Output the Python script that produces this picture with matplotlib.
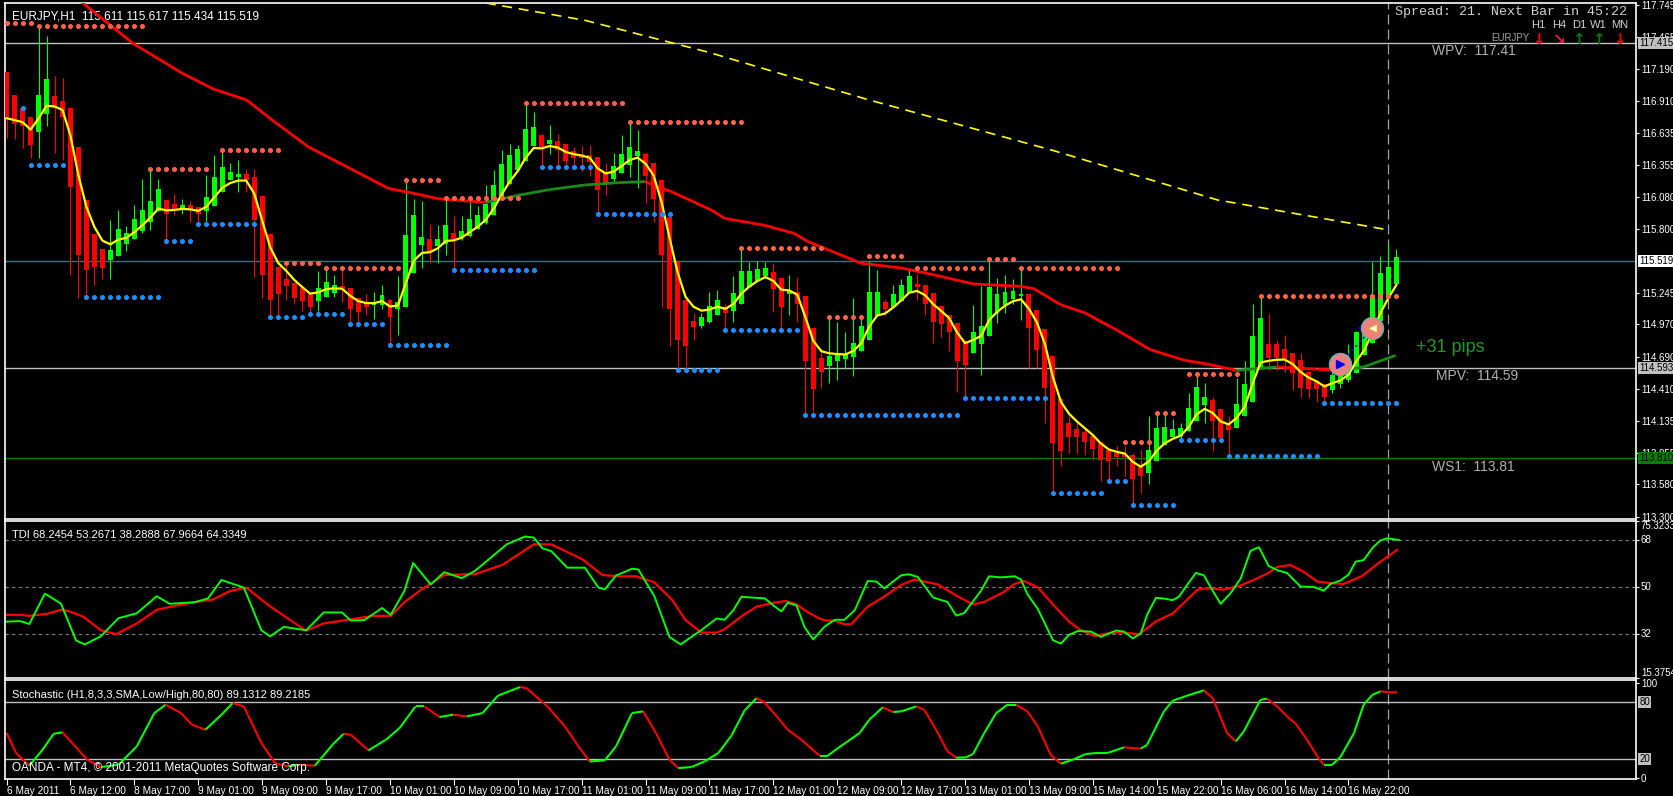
import numpy as np
import pandas as pd
import matplotlib
matplotlib.use('Agg')
import matplotlib.pyplot as plt
from matplotlib.collections import LineCollection
import matplotlib.transforms as mtrans

plt.rcParams['font.family'] = ['Liberation Sans', 'DejaVu Sans']

# ── Data: EURJPY H1 candles (bar 0 = 6 May 2011) ─────────────────
opens = [
    117.15,116.95,116.84,116.76,116.64,116.80,116.94,116.90,116.84,116.50,
    116.04,115.74,115.61,115.53,115.56,115.67,115.71,115.78,115.86,115.95,
    116.04,116.00,115.96,115.99,115.98,115.95,116.00,116.12,116.22,116.25,
    116.26,116.24,116.07,115.74,115.46,115.35,115.32,115.27,115.22,115.17,
    115.21,115.24,115.29,115.27,115.19,115.14,115.14,115.14,115.17,115.10,
    115.12,115.42,115.66,115.70,115.65,115.67,115.75,115.73,115.74,115.80,
    115.85,115.92,116.05,116.19,116.31,116.39,116.52,116.60,116.54,116.55,
    116.52,116.46,116.44,116.43,116.41,116.28,116.23,116.28,116.35,116.43,
    116.44,116.36,116.21,115.89,115.50,115.17,114.99,114.96,114.99,115.05,
    115.11,115.09,115.15,115.29,115.35,115.39,115.41,115.36,115.23,115.24,
    115.20,114.93,114.67,114.61,114.65,114.67,114.69,114.74,114.83,115.04,
    115.15,115.12,115.17,115.24,115.31,115.30,115.23,115.12,115.04,114.97,
    114.81,114.72,114.80,114.87,115.07,115.14,115.19,115.22,115.22,115.08,
    114.92,114.68,114.31,114.10,114.05,114.02,113.99,113.94,113.87,113.84,
    113.83,113.82,113.73,113.68,113.78,113.92,113.99,114.00,114.04,114.13,
    114.27,114.30,114.22,114.10,114.07,114.17,114.30,114.60,114.79,114.79,
    114.74,114.71,114.65,114.54,114.47,114.44,114.40,114.45,114.49,114.55,
    114.70,114.81,115.00,115.20,115.32]
highs = [
    117.16,116.95,116.86,116.76,117.55,117.47,117.13,117.11,116.84,116.50,
    116.04,115.74,115.61,115.88,115.96,115.82,116.01,116.23,116.32,116.23,
    116.05,116.10,116.06,116.04,115.98,116.27,116.44,116.47,116.37,116.40,
    116.32,116.32,116.07,115.74,115.46,115.50,115.32,115.27,115.22,115.43,
    115.44,115.40,115.46,115.27,115.19,115.23,115.25,115.31,115.19,115.39,
    116.22,116.06,116.04,115.84,115.83,116.06,115.91,115.91,116.04,116.00,
    116.18,116.31,116.48,116.54,116.53,116.89,116.81,116.62,116.70,116.62,
    116.52,116.51,116.52,116.53,116.41,116.37,116.46,116.61,116.72,116.66,
    116.46,116.36,116.21,115.89,115.50,115.17,115.07,115.07,115.25,115.27,
    115.15,115.39,115.63,115.51,115.52,115.51,115.50,115.36,115.40,115.38,
    115.20,114.93,114.76,115.02,114.99,114.90,115.20,115.05,115.52,115.44,
    115.19,115.31,115.36,115.45,115.41,115.30,115.23,115.12,115.04,114.97,
    114.83,115.14,115.30,115.52,115.37,115.40,115.36,115.46,115.22,115.08,
    114.92,114.68,114.31,114.17,114.11,114.06,113.99,113.94,113.90,113.91,
    113.91,113.85,113.88,114.17,114.18,114.20,114.15,114.11,114.37,114.53,
    114.46,114.34,114.22,114.17,114.50,114.65,115.15,115.22,115.06,114.83,
    114.88,114.71,114.72,114.54,114.49,114.44,114.65,114.56,114.80,114.91,
    114.95,115.51,115.56,115.67,115.62]
lows = [
    116.59,116.58,116.50,116.41,116.41,116.69,116.46,116.40,115.40,115.20,
    115.21,115.31,115.36,115.36,115.56,115.61,115.71,115.76,115.79,115.95,
    115.67,115.92,115.93,115.86,115.85,115.87,116.00,116.12,116.22,116.12,
    116.12,115.38,115.20,115.02,115.05,115.18,115.15,115.09,115.05,115.09,
    115.21,115.21,115.16,114.96,114.96,115.05,115.02,115.10,114.79,114.88,
    115.12,115.42,115.46,115.50,115.50,115.57,115.44,115.70,115.73,115.80,
    115.84,115.92,116.05,116.19,116.31,116.39,116.52,116.34,116.45,116.35,
    116.32,116.35,116.30,116.26,115.93,116.09,116.20,116.28,116.25,116.15,
    116.02,115.86,115.12,114.78,114.56,114.56,114.83,114.94,114.98,115.05,
    114.92,114.99,115.15,115.29,115.35,115.39,115.08,114.93,115.05,114.99,
    114.19,114.21,114.42,114.46,114.49,114.58,114.52,114.74,114.83,115.04,
    115.05,115.12,115.17,115.24,115.18,115.05,114.81,114.86,114.74,114.38,
    114.33,114.72,114.53,114.87,114.98,115.07,115.15,115.01,114.59,114.59,
    114.11,113.51,113.74,113.85,113.85,113.84,113.79,113.61,113.59,113.74,
    113.65,113.39,113.51,113.58,113.78,113.92,113.99,113.97,114.04,114.13,
    114.11,113.87,113.95,113.83,114.07,114.17,114.30,114.60,114.57,114.57,
    114.56,114.40,114.34,114.33,114.30,114.27,114.37,114.42,114.47,114.55,
    114.70,114.81,115.00,115.20,115.32]
closes = [
    116.76,116.71,116.69,116.53,116.95,117.09,116.85,116.77,116.16,115.57,
    115.44,115.47,115.46,115.60,115.79,115.75,115.87,115.95,116.03,116.13,
    115.93,115.97,115.99,115.96,115.93,116.06,116.24,116.32,116.28,116.26,
    116.22,115.88,115.40,115.18,115.23,115.30,115.20,115.17,115.12,115.27,
    115.33,115.30,115.27,115.10,115.08,115.12,115.15,115.21,115.03,115.15,
    115.73,115.91,115.72,115.61,115.70,115.82,115.71,115.77,115.87,115.91,
    116.00,116.17,116.35,116.43,116.48,116.65,116.67,116.49,116.56,116.48,
    116.39,116.41,116.41,116.38,116.14,116.19,116.33,116.44,116.50,116.46,
    116.26,116.06,115.57,115.10,114.83,114.78,114.95,115.02,115.12,115.17,
    115.07,115.23,115.42,115.42,115.44,115.45,115.28,115.12,115.25,115.15,
    114.65,114.41,114.56,114.68,114.70,114.70,114.80,114.94,115.24,115.24,
    115.10,115.22,115.30,115.38,115.29,115.15,114.99,114.97,114.90,114.65,
    114.62,114.89,114.94,115.28,115.22,115.24,115.25,115.22,114.94,114.75,
    114.42,113.94,113.87,113.99,113.99,113.95,113.89,113.79,113.78,113.82,
    113.82,113.63,113.65,113.87,114.06,114.07,114.05,114.06,114.23,114.41,
    114.33,114.13,113.98,114.05,114.27,114.44,114.86,115.01,114.68,114.68,
    114.67,114.55,114.42,114.41,114.41,114.34,114.52,114.53,114.63,114.89,
    114.94,115.21,115.40,115.46,115.54]

# slow moving average
ma_bars = [9, 15.8, 22, 26, 30, 33.7, 37.8, 44.5, 47.8, 50.8, 54.1, 57.8, 60, 64, 68,
           72.4, 76.6, 79.9, 83.3, 88.3, 89.9, 94.9, 98.6, 100.3, 107, 112, 116.1,
           121.1, 127, 128.6, 132, 135, 139, 143.2, 147.4, 150.7, 154, 159, 164,
           168.2, 169.9, 173.9]
ma_vals = [117.79, 117.41, 117.15, 117.01, 116.92, 116.72, 116.51, 116.27, 116.15,
           116.11, 116.06, 116.04, 116.03, 116.09, 116.14, 116.18, 116.20, 116.21,
           116.12, 115.96, 115.89, 115.83, 115.76, 115.69, 115.50, 115.46, 115.40,
           115.32, 115.30, 115.28, 115.14, 115.07, 114.92, 114.75, 114.66, 114.62,
           114.57, 114.60, 114.58, 114.58, 114.60, 114.70]

# long SMA (yellow dashed)
sma_bars = [60, 72.4, 88, 107.9, 131, 151.6, 173]
sma_vals = [117.76, 117.61, 117.33, 116.92, 116.48, 116.05, 115.79]

# fractal levels: (first bar, last bar, price)
res_dots = [(0, 3, 117.59), (4, 17, 117.56), (18, 25, 116.32), (27, 34, 116.48),
            (35, 39, 115.50), (40, 49, 115.46), (50, 54, 116.22), (55, 64, 116.07),
            (65, 77, 116.89), (78, 92, 116.73), (92, 102, 115.63), (103, 107, 115.03),
            (108, 112, 115.56), (114, 122, 115.46), (123, 126, 115.54),
            (127, 139, 115.46), (140, 143, 113.95), (144, 146, 114.20),
            (148, 154, 114.54), (157, 174, 115.22)]
sup_dots = [(2, 2, 116.85), (3, 7, 116.35), (10, 19, 115.21), (20, 23, 115.69),
            (24, 31, 115.84), (33, 37, 115.03), (38, 42, 115.06), (43, 47, 114.97),
            (48, 55, 114.79), (56, 66, 115.44), (67, 73, 116.34), (74, 83, 115.93),
            (84, 89, 114.57), (90, 99, 114.92), (100, 119, 114.18), (120, 130, 114.33),
            (131, 137, 113.51), (138, 140, 113.61), (141, 146, 113.40),
            (147, 152, 113.97), (153, 164, 113.83), (165, 174, 114.29)]

# TDI lines
tdi_g_bars = [0, 1.7, 2.85, 4.8, 6.8, 8.7, 9.8, 11.8, 14.0, 16.3, 18.8, 20.4, 23.5, 25.2,
              26.9, 29.7, 31.9, 33.0, 34.7, 37.5, 39.7, 42.0, 43.1, 44.8, 47.0, 48.1,
              49.8, 50.9, 53.1, 54.8, 57.0, 58.7, 61.0, 62.6, 64.9, 66.0, 67.1, 68.2,
              70.2, 72.4, 74.1, 74.9, 76.3, 78.3, 79.1, 81.1, 83.0, 84.4, 85.75, 87.0,
              88.9, 89.9, 91.0, 92.0, 93.25, 94.9, 96.0, 97.0, 97.8, 98.9, 99.9, 101.0,
              102.4, 103.7, 104.9, 106.2, 107.8, 108.9, 109.9, 112.0, 113.0, 114.1,
              116.0, 117.8, 118.9, 119.9, 122.0, 123.0, 124.5, 126.2, 127.0, 127.8,
              129.1, 131.0, 132.0, 133.0, 134.1, 135.75, 137.0, 138.9, 139.9, 141.0,
              142.0, 142.8, 143.9, 144.9, 146.0, 146.8, 147.8, 148.9, 149.9, 150.75,
              152.0, 153.25, 154.5, 155.75, 156.8, 158.0, 159.1, 160.3, 162.0, 163.7,
              164.9, 165.75, 167.0, 168.0, 168.9, 169.9, 171.0, 172.0, 172.8, 174.3]
tdi_g_vals = [36.9, 37.1, 36.0, 47.6, 43.8, 29.7, 28.2, 31.3, 38.2, 40.1, 46.6, 43.7,
              44.3, 45.7, 52.8, 49.9, 33.6, 31.3, 34.9, 33.6, 40.4, 40.4, 37.3, 37.5,
              42.1, 39.5, 48.6, 59.3, 51.1, 55.8, 53.5, 56.4, 62.3, 66.4, 69.4, 69.0,
              64.9, 63.8, 57.5, 57.5, 49.9, 49.25, 54.5, 57.1, 56.8, 46.6, 31.0, 28.2,
              31.1, 33.7, 38.1, 37.6, 41.3, 46.4, 46.1, 45.8, 43.1, 40.8, 44.1, 43.1,
              34.8, 30.1, 35.0, 37.6, 37.6, 41.3, 52.4, 52.2, 49.6, 54.6, 55.0, 53.9,
              46.1, 44.4, 39.2, 40.2, 48.7, 54.2, 53.8, 54.2, 53.0, 47.4, 41.8, 29.8,
              28.5, 31.8, 33.3, 33.1, 31.1, 33.5, 33.1, 30.5, 32.4, 39.6, 46.0, 45.7,
              45.1, 46.5, 50.9, 55.5, 54.6, 50.0, 43.7, 47.8, 53.3, 64.0, 65.3, 58.2,
              56.5, 55.5, 50.3, 50.1, 48.7, 51.3, 52.6, 54.8, 59.8, 60.4, 65.0, 67.9,
              68.7, 68.1]
tdi_r_bars = [0, 1.7, 2.85, 5.1, 6.8, 7.9, 9.6, 11.8, 13.7, 16.3, 18.8, 20.7, 23.5, 25.8,
              28.0, 30.0, 33.0, 37.5, 39.7, 43.1, 45.9, 48.1, 49.8, 52.0, 54.8, 58.7,
              62.1, 66.0, 68.2, 72.1, 74.6, 76.6, 78.8, 81.1, 83.3, 85.0, 87.0, 88.9,
              89.9, 92.0, 93.9, 96.0, 97.6, 98.9, 100.1, 101.6, 102.4, 103.7, 104.9,
              105.75, 107.8, 109.9, 112.0, 113.7, 114.9, 116.6, 119.1, 121.0, 122.4,
              124.9, 126.2, 127.4, 129.1, 131.2, 133.0, 134.3, 136.2, 137.8, 139.5,
              141.8, 143.9, 146.0, 147.4, 149.1, 150.3, 152.4, 154.5, 156.2, 157.8,
              159.1, 160.75, 162.4, 164.1, 165.75, 167.4, 169.7, 171.6, 174.1]
tdi_r_vals = [39.5, 39.5, 39.1, 39.9, 41.4, 40.8, 38.8, 33.6, 32.1, 36.2, 41.4, 42.7,
              44.3, 45.3, 48.6, 49.9, 42.7, 33.4, 36.2, 37.8, 39.1, 39.1, 44.3, 49.25,
              54.7, 55.1, 58.6, 66.4, 66.4, 60.7, 54.7, 54.2, 54.2, 51.9, 45.3, 37.5,
              32.7, 32.7, 34.0, 38.9, 42.6, 44.1, 44.8, 43.5, 40.9, 38.3, 37.4, 37.2,
              35.9, 35.9, 42.6, 46.5, 50.9, 53.0, 52.2, 51.1, 46.5, 43.5, 44.4, 48.3,
              51.3, 52.4, 50.0, 42.8, 37.0, 34.0, 31.4, 32.4, 32.8, 32.1, 37.0, 40.0,
              44.1, 49.1, 49.6, 49.1, 50.7, 52.9, 55.2, 57.8, 58.5, 55.9, 52.2, 51.6,
              51.3, 54.3, 58.9, 64.3]

# Stochastic %K
sto_bars = [0, 1.2, 2.85, 4.5, 5.9, 7.0, 8.4, 10.1, 11.8, 14.0, 16.3, 18.5, 19.9, 21.85,
            23.2, 24.9, 26.9, 28.3, 29.7, 31.9, 33.6, 35.25, 36.4, 38.6, 40.8, 42.2,
            43.1, 45.3, 47.5, 49.2, 51.2, 52.3, 54.2, 55.9, 57.6, 59.6, 61.5, 64.3,
            65.1, 67.7, 69.9, 71.6, 73.0, 74.9, 76.3, 78.3, 79.7, 81.3, 83.0, 84.1,
            85.75, 87.4, 89.1, 90.75, 92.4, 93.9, 94.9, 96.6, 97.8, 99.5, 101.8, 102.8,
            104.1, 105.3, 106.8, 108.0, 109.7, 111.0, 112.0, 113.9, 114.9, 116.6, 117.8,
            118.9, 120.1, 121.0, 122.4, 123.9, 125.3, 126.4, 127.8, 129.1, 130.7, 132.0,
            133.7, 135.1, 136.4, 137.8, 139.9, 142.0, 142.8, 144.9, 146.0, 147.8, 149.9,
            151.0, 152.8, 153.9, 154.9, 157.0, 157.8, 159.1, 160.3, 161.4, 162.8, 164.1,
            164.9, 165.95, 167.0, 168.7, 169.9, 171.0, 172.0, 173.0, 174.1]
sto_vals = [47.4, 26.3, 13.0, 29.8, 46.7, 48.1, 35.1, 19.3, 11.6, 14.0, 33.3, 68.4, 77.2,
            68.4, 56.1, 50.9, 66.7, 78.9, 75.4, 36.8, 15.8, 12.3, 14.0, 13.0, 35.1, 46.7,
            45.6, 29.1, 40.4, 52.6, 75.4, 75.4, 64.2, 66.7, 64.9, 68.4, 86.7, 95.8, 94.7,
            75.4, 54.4, 33.3, 17.5, 18.6, 33.3, 68.4, 70.2, 47.4, 19.3, 10.5, 11.6, 17.5,
            26.3, 44.6, 71.2, 84.2, 79.6, 63.2, 50.9, 40.4, 23.5, 23.5, 31.6, 38.6, 47.4,
            61.4, 74.4, 69.5, 70.2, 75.4, 71.9, 47.4, 28.1, 21.4, 21.8, 25.3, 47.4, 68.4,
            77.2, 77.2, 70.2, 54.4, 24.6, 15.1, 20.0, 25.3, 26.3, 26.3, 32.3, 30.9, 35.1,
            70.2, 81.4, 86.7, 92.3, 84.2, 47.4, 38.6, 49.1, 82.5, 83.5, 75.4, 64.9, 57.2,
            40.4, 22.8, 14.0, 14.0, 22.1, 47.4, 77.2, 87.7, 91.2, 90.5, 90.2]

x_labels = ['6 May 2011', '6 May 12:00', '8 May 17:00', '9 May 01:00', '9 May 09:00',
            '9 May 17:00', '10 May 01:00', '10 May 09:00', '10 May 17:00', '11 May 01:00',
            '11 May 09:00', '11 May 17:00', '12 May 01:00', '12 May 09:00', '12 May 17:00',
            '13 May 01:00', '13 May 09:00', '15 May 14:00', '15 May 22:00', '16 May 06:00',
            '16 May 14:00', '16 May 22:00']
price_ticks = [117.745, 117.465, 117.190, 116.910, 116.635, 116.355, 116.080, 115.800,
               115.245, 114.970, 114.690, 114.410, 114.135, 113.855, 113.580, 113.300]

BG = 'black'
W = 1674
H = 796
fig = plt.figure(figsize=(W / 100, H / 100), dpi=100, facecolor=BG)


def px_axes(top, bottom):
    return fig.add_axes([5 / W, 1 - bottom / H, 1631 / W, (bottom - top) / H], facecolor=BG)


ax = px_axes(3, 519)
ax_tdi = px_axes(521, 678)
ax_sto = px_axes(680, 779)
XMIN, XMAX = -0.2, 204
TICK_FS = 7.0

for a in (ax, ax_tdi, ax_sto):
    a.set_xlim(XMIN, XMAX)
    for s in a.spines.values():
        s.set_color('white')
        s.set_linewidth(1.2)
    a.yaxis.tick_right()
    a.tick_params(axis='y', colors='white', labelsize=TICK_FS, length=2.5, pad=1)
    a.tick_params(axis='x', bottom=False, labelbottom=False)
    a.axvline(173, color='#a0a0a0', lw=0.9, ls=(0, (8, 4)))

# ── Main price panel ─────────────────────────────────────────────
ax.set_ylim(113.28, 117.76)
ax.set_yticks(price_ticks)
ax.set_yticklabels([f'{t:.3f}' for t in price_ticks])

bars = np.arange(len(closes))
o = np.array(opens); c = np.array(closes)
h = np.array(highs); l = np.array(lows)
up = c >= o
col = np.where(up, '#00ff00', '#ff0000')
ax.vlines(bars, l, h, colors=col, lw=0.8, zorder=3)
ax.bar(bars, np.abs(c - o) + 0.012, bottom=np.minimum(o, c), width=0.62,
       color=col, zorder=4)

# fast yellow line
fast = pd.Series(closes).ewm(span=5, adjust=False).mean()
ax.plot(bars, fast, color='#ffff00', lw=1.6, zorder=5)

# slow MA coloured by slope
segs = [[(ma_bars[i], ma_vals[i]), (ma_bars[i + 1], ma_vals[i + 1])]
        for i in range(len(ma_bars) - 1)]
seg_col = ['#1a8a1a' if ma_vals[i + 1] > ma_vals[i] else '#ff0000'
           for i in range(len(ma_bars) - 1)]
ax.add_collection(LineCollection(segs, colors=seg_col, lw=2, zorder=4))

ax.plot(sma_bars, sma_vals, color='#ffff00', lw=1.2, ls=(0, (6, 4)), zorder=3)

for b0, b1, p in res_dots:
    xs = np.arange(b0, b1 + 1)
    ax.plot(xs, [p] * len(xs), ls='none', marker='o', ms=2.6, color='#ff6347', zorder=6)
for b0, b1, p in sup_dots:
    xs = np.arange(b0, b1 + 1)
    ax.plot(xs, [p] * len(xs), ls='none', marker='o', ms=2.6, color='#1e90ff', zorder=6)

# pivot lines
ax.axhline(117.41, color='#c0c0c0', lw=1)
ax.axhline(115.519, color='#008b8b', lw=1)
ax.axhline(114.593, color='#c0c0c0', lw=1)
ax.axhline(113.81, color='#008000', lw=1)
ax.text(178.5, 117.34, 'WPV:  117.41', color='#b0b0b0', fontsize=10, va='center')
ax.text(179, 114.52, 'MPV:  114.59', color='#b0b0b0', fontsize=10, va='center')
ax.text(178.5, 113.73, 'WS1:  113.81', color='#b0b0b0', fontsize=10, va='center')

# trade markers
ax.plot([167, 171], [114.63, 114.94], color='#0000ff', lw=1, ls=(0, (2, 2)), zorder=7)
ax.plot([169.3, 170.3], [114.94, 114.94], color='#0000ff', lw=1.2, zorder=7)
ax.plot([167], [114.63], 'o', ms=16, color='#f08080', mec='#40c0c0', mew=0.8, zorder=8)
ax.plot([167], [114.63], '>', ms=6, color='#0000ff', zorder=9)
ax.plot([171], [114.94], 'o', ms=16, color='#f08080', mec='#40c0c0', mew=0.8, zorder=8)
ax.plot([171], [114.94], '<', ms=7, color='#fff0d0', mec='#d0a040', zorder=9)
ax.text(176.5, 114.77, '+31 pips', color='#1f9a1f', fontsize=13, va='center')

ax.text(0.004, 0.985, 'EURJPY,H1  115.611 115.617 115.434 115.519', color='white',
        fontsize=8.5, transform=ax.transAxes, va='top')
ax.text(0.852, 0.994, 'Spread: 21. Next Bar in 45:22', color='#d0d0d0', fontsize=9.6,
        family='Liberation Mono', transform=ax.transAxes, va='top')
for xf, tf, arr, ac in [(0.940, 'H1', '↓', '#ff0000'), (0.953, 'H4', '↘', '#e0204a'),
                        (0.965, 'D1', '↑', '#008000'), (0.977, 'W1', '↑', '#008000'),
                        (0.990, 'MN', '↓', '#ff0000')]:
    ax.text(xf, 0.957, tf, color='#d0d0d0', fontsize=8, ha='center',
            transform=ax.transAxes, va='center')
    ax.text(xf, 0.930, arr, color=ac, fontsize=11, ha='center', fontweight='bold',
            family='DejaVu Sans', transform=ax.transAxes, va='center')
ax.text(0.923, 0.932, 'EURJPY', color='#a0a0a0', fontsize=7, ha='center',
        transform=ax.transAxes, va='center')

# boxed price labels on the right axis
tr = mtrans.blended_transform_factory(ax.transAxes, ax.transData)
for p, fc, tc in [(117.415, '#c0c0c0', 'black'), (115.519, 'white', 'black'),
                  (114.593, '#c0c0c0', 'black'), (113.810, '#008000', 'black')]:
    ax.text(1.002, p, f'{p:.3f}', transform=tr, fontsize=TICK_FS, color=tc, va='center',
            bbox=dict(boxstyle='square,pad=0.12', fc=fc, ec='none'), clip_on=False, zorder=10)

# ── TDI panel ────────────────────────────────────────────────────
ax_tdi.set_ylim(15.3754, 75.3233)
ax_tdi.set_yticks([75.3233, 68, 50, 32, 15.3754])
ax_tdi.set_yticklabels(['75.3233', '68', '50', '32', '15.3754'])
for lab, va in zip(ax_tdi.get_yticklabels(), ['top', 'center', 'center', 'center', 'bottom']):
    lab.set_verticalalignment(va)
for lv in (68, 50, 32):
    ax_tdi.axhline(lv, color='#808080', lw=0.8, ls=(0, (3, 3)))
ax_tdi.plot(tdi_r_bars, tdi_r_vals, color='#ff0000', lw=1.6)
ax_tdi.plot(tdi_g_bars, tdi_g_vals, color='#00ff00', lw=1.4)
ax_tdi.text(0.004, 0.94, 'TDI 68.2454 53.2671 38.2888 67.9664 64.3349', color='white',
            fontsize=8, transform=ax_tdi.transAxes, va='top')

# ── Stochastic panel ─────────────────────────────────────────────
ax_sto.set_ylim(-1, 103.2)
ax_sto.set_yticks([100, 0])
ax_sto.set_yticklabels(['100', '0'])
ax_sto.axhline(80, color='#c0c0c0', lw=1)
ax_sto.axhline(20, color='#c0c0c0', lw=1)
trs = mtrans.blended_transform_factory(ax_sto.transAxes, ax_sto.transData)
for lv in (80, 20):
    ax_sto.text(1.002, lv, str(lv), transform=trs, fontsize=TICK_FS, color='black', va='center',
                bbox=dict(boxstyle='square,pad=0.12', fc='#c0c0c0', ec='none'), clip_on=False)
ssegs = [[(sto_bars[i], sto_vals[i]), (sto_bars[i + 1], sto_vals[i + 1])]
         for i in range(len(sto_bars) - 1)]
scol = ['#00ff00' if sto_vals[i + 1] >= sto_vals[i] else '#ff0000'
        for i in range(len(sto_bars) - 1)]
ax_sto.add_collection(LineCollection(ssegs, colors=scol, lw=1.5))
ax_sto.text(0.004, 0.90, 'Stochastic (H1,8,3,3,SMA,Low/High,80,80) 89.1312 89.2185',
            color='white', fontsize=8, transform=ax_sto.transAxes, va='top')
ax_sto.text(0.004, 0.05, 'OANDA - MT4, © 2001-2011 MetaQuotes Software Corp.',
            color='white', fontsize=8.5, transform=ax_sto.transAxes, va='bottom')

ax_sto.set_xticks(np.arange(0, 8 * len(x_labels), 8))
ax_sto.set_xticklabels(x_labels)
ax_sto.tick_params(axis='x', bottom=True, labelbottom=True, colors='white',
                   labelsize=7.3, length=4, pad=1)
for lab in ax_sto.get_xticklabels():
    lab.set_horizontalalignment('left')

fig.savefig('out.png', dpi=100, facecolor=BG)
